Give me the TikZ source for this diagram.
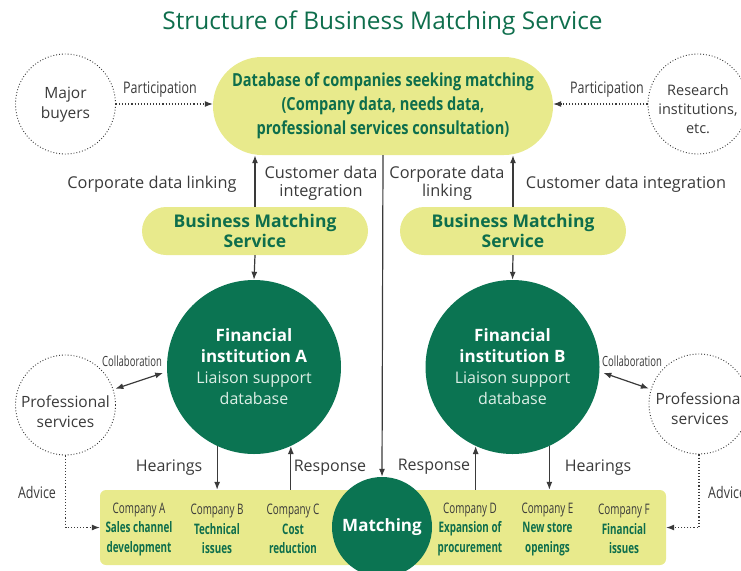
\documentclass[tikz,border=0pt]{standalone}
\usepackage{fontspec}
\setmainfont{Open Sans}
\newfontfamily\condf[FakeStretch=0.78]{Open Sans}
\newfontfamily\dbf[FakeStretch=0.81]{Open Sans}
\newfontfamily\ccondf[FakeStretch=0.68]{Open Sans}
\usetikzlibrary{arrows.meta}
\definecolor{fgreen}{HTML}{0B7452}
\definecolor{tgreen}{HTML}{0E6E4C}
\definecolor{ylw}{HTML}{E8EA8C}
\definecolor{txt}{HTML}{3A3A3A}
\definecolor{ltxt}{HTML}{DDEFE6}
\newcommand\grn[1]{\textcolor{tgreen}{\bfseries #1}}
\tikzset{
  dbbox/.style={fill=ylw, rounded corners=49pt, minimum width=340pt, minimum height=98pt, align=center, text=tgreen, font=\dbf\bfseries\fontsize{18}{24}\selectfont},
  bmsbox/.style={fill=ylw, rounded corners=24pt, minimum width=226pt, minimum height=48pt, align=center, text=tgreen, font=\bfseries\fontsize{17.5}{20}\selectfont},
  fin/.style={circle, fill=fgreen, minimum size=174pt, inner sep=0pt, align=center, text=white, font=\fontsize{16}{21}\selectfont},
  dotc/.style={circle, draw=txt, dotted, line width=0.9pt, minimum size=100pt, inner sep=0pt},
  ctxt/.style={text=txt, align=center, inner sep=0pt, font=\fontsize{15.5}{20}\selectfont},
  lbl/.style={text=txt, font=\fontsize{16.3}{17.5}\selectfont, align=center, inner sep=0pt},
  hlbl/.style={text=txt, font=\fontsize{16}{17.5}\selectfont, inner sep=0pt},
  clbl/.style={text=txt, font=\condf\fontsize{16}{17}\selectfont, inner sep=0pt},
  cclbl/.style={text=txt, font=\ccondf\fontsize{14}{15}\selectfont, inner sep=0pt},
  comp/.style={text=txt, font=\ccondf\fontsize{14.5}{19.5}\selectfont, align=center, inner sep=0pt},
  arr/.style={draw=txt, line width=1.2pt, -{Latex[length=8pt,width=6pt]}},
  darr/.style={draw=txt, line width=1.2pt, {Latex[length=8pt,width=6pt]}-{Latex[length=8pt,width=6pt]}},
  dotarr/.style={draw=txt, dotted, line width=1.1pt, -{Latex[length=8pt,width=6pt]}},
}
\begin{document}
\begin{tikzpicture}[x=1pt,y=-1pt]
\useasboundingbox (0,0) rectangle (741,570);
\clip (0,0) rectangle (741,570);
% title
\node[text=tgreen, font=\fontsize{24.4}{26}\selectfont] (title) at (382.5,23) {Structure of Business Matching Service};
% database
\node[dbbox] (db) at (383,106) {Database of companies seeking matching\\(Company data, needs data,\\professional services consultation)};
% side circles
\node[dotc] (mb) at (65.5,104) {};
\node[ctxt] (mbt) at (65.5,105) {Major\\buyers};
\node[dotc] (ri) at (698,104) {};
\node[ctxt, font=\fontsize{14.5}{19}\selectfont] (rit) at (698,109) {Research\\institutions,\\etc.};
\draw[dotarr] (mb.east) -- (db.west |- mb.east);
\draw[dotarr] (ri.west) -- (db.east |- ri.west);
\node[clbl] (pl) at (160,90) {Participation};
\node[clbl] (pr) at (607,90) {Participation};
% business matching service boxes
\node[bmsbox] (bA) at (255,231) {Business Matching\\Service};
\node[bmsbox] (bB) at (513,231) {Business Matching\\Service};
\draw[arr] (bA.north) -- (bA.north |- db.south);
\draw[arr] (bB.north) -- (bB.north |- db.south);
\node[lbl] (cdl1) at (152,184) {Corporate data linking};
\node[lbl] (cdi1) at (321,183.5) {Customer data\\integration};
\node[lbl] (cdl2) at (447,183.5) {Corporate data\\linking};
\node[lbl] (cdi2) at (626,184) {Customer data integration};
% financial institutions
\node[fin] (fa) at (254,367) {{\bfseries\fontsize{17}{21}\selectfont Financial}\\{\bfseries\fontsize{17}{21}\selectfont institution A}\\\textcolor{ltxt}{Liaison support}\\\textcolor{ltxt}{database}};
\node[fin] (fb) at (512.5,367) {{\bfseries\fontsize{17}{21}\selectfont Financial}\\{\bfseries\fontsize{17}{21}\selectfont institution B}\\\textcolor{ltxt}{Liaison support}\\\textcolor{ltxt}{database}};
\draw[arr] (bA.south) -- (fa.north);
\draw[arr] (bB.south) -- (fb.north);
% professional services
\node[dotc] (psL) at (65.5,405) {};
\node[ctxt] (psLt) at (65.5,411.5) {Professional\\services};
\node[dotc] (psR) at (699,404) {};
\node[ctxt] (psRt) at (700,408.5) {Professional\\services};
\draw[darr, shorten <=2pt, shorten >=4pt] (psL.18) -- (fa.183);
\draw[darr, shorten <=4pt, shorten >=2pt] (fb.357) -- (psR.163);
\node[cclbl] (colL) at (132,361) {Collaboration};
\node[cclbl] (colR) at (632,361) {Collaboration};
% company box
\node[fill=ylw, rounded corners=6pt, minimum width=566pt, minimum height=75pt, inner sep=0pt] (box) at (383,527.5) {};
\draw[dotarr] (psL.south) |- (box.west);
\draw[dotarr] (psR.south) |- (box.east);
\node[clbl] (advL) at (37,492) {Advice};
\node[clbl, anchor=west] (advR) at (708,492) {Advice};
% matching
\node[circle, fill=fgreen, minimum size=100pt, inner sep=0pt, text=white, font=\bfseries\fontsize{17}{20}\selectfont] (match) at (382,527) {Matching};
\draw[arr] (db.south) -- (match.north);
% companies
\node[comp] (cA) at (139,529) {Company A\\\grn{Sales channel}\\\grn{development}};
\node[comp] (cB) at (217,529) {Company B\\\grn{Technical}\\\grn{issues}};
\node[comp] (cC) at (293,529) {Company C\\\grn{Cost}\\\grn{reduction}};
\node[comp] (cD) at (470,529) {Company D\\\grn{Expansion of}\\\grn{procurement}};
\node[comp] (cE) at (547.5,529) {Company E\\\grn{New store}\\\grn{openings}};
\node[comp] (cF) at (624,529) {Company F\\\grn{Financial}\\\grn{issues}};
% hearings / response
\draw[arr] (fa.245) -- (fa.245 |- box.north);
\draw[arr] (box.north -| fa.295) -- (fa.295);
\draw[arr] (box.north -| fb.245) -- (fb.245);
\draw[arr] (fb.295) -- (fb.295 |- box.north);
\node[hlbl] (hL) at (169,468) {Hearings};
\node[hlbl] (rL) at (330,468) {Response};
\node[hlbl] (rR) at (434,467) {Response};
\node[hlbl] (hR) at (598,468) {Hearings};
\end{tikzpicture}
\end{document}
